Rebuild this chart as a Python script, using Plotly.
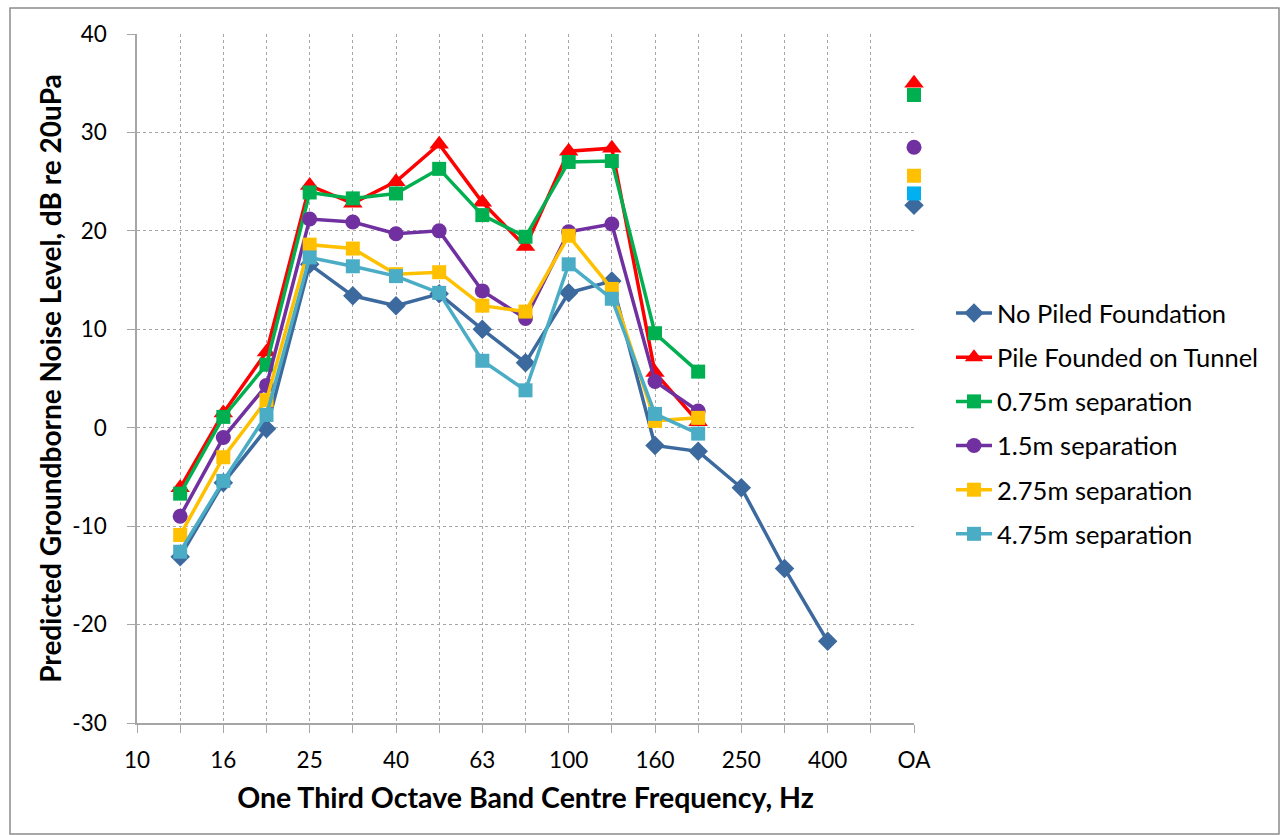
import plotly.graph_objects as go

categories = ["10", "12.5", "16", "20", "25", "31.5", "40", "50", "63", "80",
              "100", "125", "160", "200", "250", "315", "400", "500", "OA"]
tick_labels = ["10", "", "16", "", "25", "", "40", "", "63", "", "100", "",
               "160", "", "250", "", "400", "", "OA"]
y_ticks = [-30, -20, -10, 0, 10, 20, 30, 40]
y_tick_labels = ["-30", "-20", "-10", "0", "10", "20", "30", "40"]

no_piled = [None, -13.1, -5.6, -0.1, 16.6, 13.4, 12.4, 13.6, 10.0, 6.6,
            13.7, 14.9, -1.8, -2.4, -6.1, -14.3, -21.7, None, 22.6]
pile_tunnel = [None, -6.1, 1.5, 7.7, 24.6, 22.8, 25.0, 28.8, 22.9, 18.4,
               28.1, 28.4, 5.6, 0.6, None, None, None, None, 35.0]
sep_075 = [None, -6.7, 1.1, 6.4, 23.9, 23.3, 23.8, 26.3, 21.6, 19.4,
           27.0, 27.1, 9.6, 5.7, None, None, None, None, 33.8]
sep_15 = [None, -9.0, -1.0, 4.3, 21.2, 20.9, 19.7, 20.0, 13.9, 11.1,
          19.9, 20.7, 4.7, 1.7, None, None, None, None, 28.5]
sep_275 = [None, -10.9, -3.0, 2.8, 18.6, 18.2, 15.6, 15.8, 12.4, 11.8,
           19.5, 14.1, 0.7, 1.0, None, None, None, None, 25.6]
sep_475 = [None, -12.6, -5.4, 1.3, 17.3, 16.4, 15.4, 13.7, 6.8, 3.8,
           16.6, 13.1, 1.4, -0.6, None, None, None, None, 23.8]

series = [
    ("No Piled Foundation", no_piled, "#3C6A9E", "diamond", 15, None),
    ("Pile Founded on Tunnel", pile_tunnel, "#FF0000", "triangle-up", 17, None),
    ("0.75m separation", sep_075, "#00B050", "square", 14, None),
    ("1.5m separation", sep_15, "#7030A0", "circle", 15, None),
    ("2.75m separation", sep_275, "#FFC000", "square", 14, None),
    ("4.75m separation", sep_475, "#4BACC6", "square", 14, "#00B0F0"),
]

fig = go.Figure()
for i, (name, vals, color, symbol, size, oa_color) in enumerate(series):
    mcolor = color
    if oa_color:
        mcolor = [color] * (len(categories) - 1) + [oa_color]
    fig.add_trace(go.Scatter(
        x=categories, y=vals, name=name, mode="lines+markers",
        line=dict(color=color, width=3.5),
        marker=dict(symbol=symbol, size=size, color=mcolor),
        legendgroup=f"g{i}", connectgaps=False, cliponaxis=False,
    ))

L, R, T, B = 137, 914, 34, 723
W, H = 1282, 835
pw, ph = R - L, B - T

def px(x):
    return (x - L) / pw

def py(y):
    return (B - y) / ph

fig.add_shape(type="rect", xref="paper", yref="paper",
              x0=px(10), x1=px(1279), y0=py(834), y1=py(8),
              line=dict(color="#8C8C8C", width=1.5), layer="below")

font = "Lato, 'Open Sans', sans-serif"
fig.update_layout(
    width=W, height=H,
    margin=dict(l=L, r=W - R, t=T, b=H - B),
    paper_bgcolor="white", plot_bgcolor="white",
    font=dict(family=font, size=22, color="#000000"),
    showlegend=True,
    legend=dict(x=px(951), y=py(290), xanchor="left", yanchor="top",
                font=dict(size=25.5, family=font), tracegroupgap=8,
                itemwidth=36, bgcolor="rgba(0,0,0,0)"),
    xaxis=dict(
        type="category", categoryorder="array", categoryarray=categories,
        range=[0, len(categories) - 1],
        tickvals=categories, ticktext=tick_labels,
        ticks="outside", ticklen=8, tickcolor="#A6A6A6",
        showline=True, linecolor="#A6A6A6", linewidth=1.5,
        showgrid=True, gridcolor="#A6A6A6", griddash="3px,3px", gridwidth=1,
        tickfont=dict(size=22.5), zeroline=False, ticklabelstandoff=8,
        title=dict(text="<b>One Third Octave Band Centre Frequency, Hz</b>",
                   font=dict(size=28.5), standoff=16),
    ),
    yaxis=dict(
        range=[-30, 40], tickvals=y_ticks, ticktext=y_tick_labels,
        ticks="outside", ticklen=8, tickcolor="#A6A6A6",
        showline=True, linecolor="#A6A6A6", linewidth=1.5,
        showgrid=True, gridcolor="#A6A6A6", griddash="3px,3px", gridwidth=1,
        tickfont=dict(size=22.5), zeroline=False, ticklabelstandoff=16,
        title=dict(text="<b>Predicted Groundborne Noise Level, dB re 20uPa</b>",
                   font=dict(size=28), standoff=2),
    ),
)

fig.write_html("out.html")
